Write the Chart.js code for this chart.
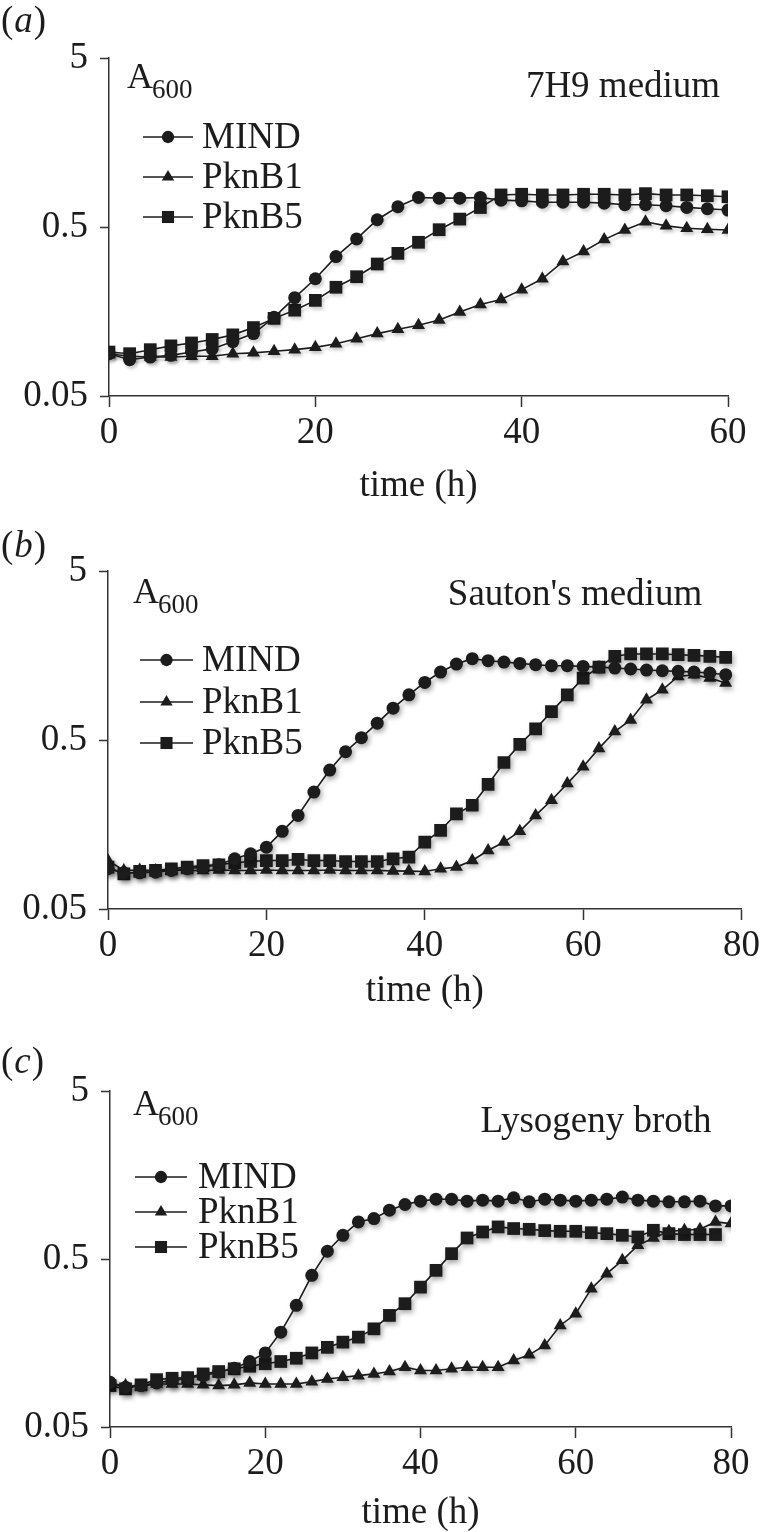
<!DOCTYPE html>
<html>
<head>
<meta charset="utf-8">
<title>Growth curves</title>
<script src="https://cdn.jsdelivr.net/npm/chart.js@4.4.1/dist/chart.umd.min.js"></script>
<style>
  html, body { margin: 0; padding: 0; background: #fff; }
  .panel { position: absolute; left: 0; }
  canvas { display: block; }
</style>
</head>
<body>
<div class="panel" style="top:0"><canvas id="chartA" width="764" height="505"></canvas></div>
<div class="panel" style="top:505px"><canvas id="chartB" width="764" height="515"></canvas></div>
<div class="panel" style="top:1020px"><canvas id="chartC" width="764" height="512"></canvas></div>

<script>
// sampling times (h)
const timesA = [0, 2, 4, 6, 8, 10, 12, 14, 16, 18, 20, 22, 24, 26, 28, 30, 32, 34, 36, 38, 40, 42, 44, 46, 48, 50, 52, 54, 56, 58, 60];
const timesB = [0, 2, 4, 6, 8, 10, 12, 14, 16, 18, 20, 22, 24, 26, 28, 30, 32, 34, 36, 38, 40, 42, 44, 46, 48, 50, 52, 54, 56, 58, 60, 62, 64, 66, 68, 70, 72, 74, 76, 78];
const timesC = [0, 2, 4, 6, 8, 10, 12, 14, 16, 18, 20, 22, 24, 26, 28, 30, 32, 34, 36, 38, 40, 42, 44, 46, 48, 50, 52, 54, 56, 58, 60, 62, 64, 66, 68, 70, 72, 74, 76, 78, 80];

// (a) 7H9 medium, A600
const mindA  = [0.089, 0.082, 0.085, 0.087, 0.091, 0.095, 0.105, 0.117, 0.146, 0.191, 0.247, 0.334, 0.425, 0.552, 0.659, 0.748, 0.741, 0.741, 0.748, 0.721, 0.714, 0.701, 0.701, 0.701, 0.692, 0.677, 0.677, 0.668, 0.653, 0.641, 0.630];
const pknB1A = [0.089, 0.086, 0.085, 0.085, 0.086, 0.086, 0.089, 0.090, 0.092, 0.094, 0.097, 0.102, 0.109, 0.117, 0.124, 0.131, 0.141, 0.157, 0.174, 0.186, 0.213, 0.247, 0.312, 0.358, 0.421, 0.480, 0.537, 0.508, 0.492, 0.485, 0.480];
const pknB5A = [0.091, 0.089, 0.094, 0.099, 0.103, 0.108, 0.115, 0.127, 0.144, 0.161, 0.184, 0.220, 0.254, 0.302, 0.349, 0.406, 0.482, 0.557, 0.652, 0.774, 0.781, 0.774, 0.774, 0.781, 0.781, 0.774, 0.788, 0.774, 0.774, 0.766, 0.755];

// (b) Sauton's medium
const mindB  = [0.0865, 0.0819, 0.0819, 0.0826, 0.0845, 0.0865, 0.0885, 0.0913, 0.0991, 0.106, 0.116, 0.144, 0.179, 0.246, 0.332, 0.426, 0.516, 0.629, 0.771, 0.925, 1.096, 1.262, 1.407, 1.514, 1.473, 1.446, 1.420, 1.395, 1.376, 1.376, 1.363, 1.350, 1.333, 1.315, 1.297, 1.285, 1.274, 1.262, 1.245, 1.217];
const pknB1B = [0.0968, 0.0845, 0.0850, 0.0845, 0.0850, 0.0845, 0.0845, 0.0850, 0.0845, 0.0845, 0.0850, 0.0845, 0.0845, 0.0845, 0.0850, 0.0845, 0.0845, 0.0845, 0.0840, 0.0838, 0.0834, 0.0865, 0.0885, 0.0968, 0.111, 0.1245, 0.144, 0.179, 0.220, 0.276, 0.347, 0.446, 0.561, 0.657, 0.865, 0.991, 1.189, 1.217, 1.162, 1.086];
const pknB5B = [0.0885, 0.0807, 0.0834, 0.0845, 0.0865, 0.0885, 0.0904, 0.0913, 0.0938, 0.0955, 0.0968, 0.0968, 0.0982, 0.0968, 0.0968, 0.0955, 0.0955, 0.0955, 0.0991, 0.1014, 0.1245, 0.146, 0.183, 0.2055, 0.273, 0.368, 0.471, 0.581, 0.736, 0.925, 1.162, 1.351, 1.564, 1.615, 1.615, 1.615, 1.599, 1.584, 1.564, 1.541];

// (c) Lysogeny broth
const mindC  = [0.0922, 0.0862, 0.0882, 0.0915, 0.0944, 0.0975, 0.1011, 0.1059, 0.112, 0.1227, 0.138, 0.1835, 0.265, 0.400, 0.556, 0.692, 0.831, 0.870, 0.976, 1.055, 1.105, 1.135, 1.135, 1.105, 1.120, 1.105, 1.157, 1.095, 1.135, 1.120, 1.105, 1.120, 1.135, 1.168, 1.120, 1.105, 1.095, 1.095, 1.105, 1.035, 1.035];
const pknB1C = [0.0902, 0.0882, 0.0874, 0.0902, 0.0902, 0.0902, 0.0891, 0.0882, 0.0891, 0.0915, 0.0902, 0.0902, 0.0902, 0.0931, 0.0966, 0.0989, 0.1011, 0.1035, 0.1069, 0.1135, 0.1084, 0.1084, 0.111, 0.1135, 0.1135, 0.1135, 0.1245, 0.1344, 0.1528, 0.2011, 0.236, 0.333, 0.409, 0.491, 0.603, 0.667, 0.731, 0.741, 0.751, 0.831, 0.812];
const pknB5C = [0.0882, 0.0843, 0.0891, 0.0957, 0.0975, 0.0984, 0.1035, 0.1069, 0.111, 0.115, 0.119, 0.1227, 0.1283, 0.138, 0.149, 0.160, 0.1714, 0.192, 0.2307, 0.271, 0.340, 0.428, 0.538, 0.667, 0.724, 0.776, 0.759, 0.751, 0.738, 0.731, 0.731, 0.717, 0.708, 0.692, 0.676, 0.741, 0.708, 0.699, 0.699, 0.699];

const seriesNames = ['MIND', 'PknB1', 'PknB5'];
const yTicks = [0.05, 0.5, 5];

const INK = '#1c1c1c';
const SERIF = "'Liberation Serif', 'Times New Roman', serif";
Chart.defaults.font.family = SERIF;
Chart.defaults.color = INK;

const markers = [
    { style: 'circle', radius: 6.5 },
    { style: 'triangle', radius: 7.5 },
    { style: 'rect', radius: 9 }
];

function drawMarker(ctx, style, x, y, r) {
    ctx.beginPath();
    if (style === 'circle') {
        ctx.arc(x, y, r, 0, Math.PI * 2);
    } else if (style === 'triangle') {
        ctx.moveTo(x, y - r);
        ctx.lineTo(x + r * 0.866, y + r * 0.5);
        ctx.lineTo(x - r * 0.866, y + r * 0.5);
        ctx.closePath();
    } else {
        const s = r * Math.SQRT1_2;
        ctx.rect(x - s, y - s, 2 * s, 2 * s);
    }
    ctx.fill();
}

// soft shadow under the markers, as in the printed figure
const shadowPlugin = {
    id: 'markShadow',
    beforeDatasetsDraw(chart, args, o) {
        const ctx = chart.ctx;
        ctx.save();
        ctx.shadowColor = o.color || 'rgba(0,0,0,0.3)';
        ctx.shadowBlur = o.blur || 5;
        ctx.shadowOffsetX = 2;
        ctx.shadowOffsetY = 3;
    },
    afterDatasetsDraw(chart) {
        chart.ctx.restore();
    }
};

// panel tag, A600 label, medium name and the legend inside the plot
const decorPlugin = {
    id: 'decor',
    afterDraw(chart, args, o) {
        const ctx = chart.ctx;
        ctx.save();
        ctx.fillStyle = INK;
        ctx.strokeStyle = INK;

        ctx.textBaseline = 'middle';
        ctx.textAlign = 'left';
        let x = 1;
        ctx.font = '37px ' + SERIF;
        ctx.fillText('(', x, o.tagY);
        x += ctx.measureText('(').width + 1;
        ctx.font = 'italic 37px ' + SERIF;
        ctx.fillText(o.tag, x, o.tagY);
        x += ctx.measureText(o.tag).width + 1;
        ctx.font = '37px ' + SERIF;
        ctx.fillText(')', x, o.tagY);

        ctx.textBaseline = 'alphabetic';
        ctx.font = '36px ' + SERIF;
        ctx.fillText('A', o.aX, o.aY);
        const aw = ctx.measureText('A').width;
        ctx.font = '27px ' + SERIF;
        ctx.fillText('600', o.aX + aw - 1, o.aY + 10);

        ctx.font = '37px ' + SERIF;
        ctx.textAlign = 'center';
        ctx.fillText(o.title, o.titleX, o.titleY);

        ctx.textAlign = 'left';
        ctx.textBaseline = 'middle';
        ctx.font = '37px ' + SERIF;
        chart.data.datasets.forEach((ds, i) => {
            const y = o.legendY[i];
            ctx.lineWidth = 1.6;
            ctx.beginPath();
            ctx.moveTo(o.legendX[0], y);
            ctx.lineTo(o.legendX[1], y);
            ctx.stroke();
            drawMarker(ctx, ds.pointStyle, (o.legendX[0] + o.legendX[1]) / 2, y, ds.pointRadius * 0.95);
            ctx.fillText(ds.label, o.legendText, y + 1);
        });
        ctx.restore();
    }
};

function buildPanel(id, p) {
    const canvas = document.getElementById(id);
    const W = canvas.width, H = canvas.height;
    const datasets = p.series.map((values, i) => ({
        label: seriesNames[i],
        data: values.map((v, k) => ({ x: p.times[k], y: v })),
        borderColor: INK,
        backgroundColor: INK,
        borderWidth: 1.6,
        pointStyle: markers[i].style,
        pointRadius: markers[i].radius,
        pointBackgroundColor: INK,
        pointBorderColor: INK,
        pointBorderWidth: 0,
        tension: 0,
        fill: false
    }));

    return new Chart(canvas, {
        type: 'line',
        data: { datasets: datasets },
        plugins: [shadowPlugin, decorPlugin],
        options: {
            responsive: false,
            animation: false,
            events: [],
            layout: { padding: { top: p.area.top, right: W - p.area.right, left: 0, bottom: 0 } },
            plugins: {
                legend: { display: false },
                tooltip: { enabled: false },
                markShadow: p.shadow,
                decor: p.decor
            },
            scales: {
                x: {
                    type: 'linear',
                    min: 0,
                    max: p.xMax,
                    afterFit: (s) => { s.height = H - p.area.bottom; },
                    border: { display: true, color: '#333', width: 1.5 },
                    grid: { drawOnChartArea: false, tickLength: 11, tickColor: '#333', tickWidth: 1.5 },
                    ticks: { stepSize: 20, autoSkip: false, maxRotation: 0, padding: 4, color: INK, font: { size: 37 } },
                    title: {
                        display: true,
                        text: 'time (h)',
                        color: INK,
                        font: { size: 37, lineHeight: 1 },
                        padding: { top: 0, bottom: p.xTitlePad }
                    }
                },
                y: {
                    type: 'logarithmic',
                    min: 0.05,
                    max: 5,
                    afterFit: (s) => { s.width = p.area.left; },
                    afterBuildTicks: (s) => { s.ticks = yTicks.map(v => ({ value: v })); },
                    border: { display: true, color: '#333', width: 1.5 },
                    grid: { drawOnChartArea: false, tickLength: 9, tickColor: '#333', tickWidth: 1.5 },
                    ticks: {
                        padding: 12,
                        color: INK,
                        font: { size: 37 },
                        callback: (v) => String(v)
                    }
                }
            }
        }
    });
}

buildPanel('chartA', {
    times: timesA,
    series: [mindA, pknB1A, pknB5A],
    xMax: 60,
    area: { left: 109, top: 58, right: 728, bottom: 396 },
    xTitlePad: 0,
    shadow: { color: 'rgba(0,0,0,0.18)', blur: 3 },
    decor: {
        tag: 'a', tagY: 22,
        aX: 127, aY: 88,
        title: '7H9 medium', titleX: 623, titleY: 97,
        legendY: [137, 177, 217], legendX: [143, 193], legendText: 202
    }
});

buildPanel('chartB', {
    times: timesB,
    series: [mindB, pknB1B, pknB5B],
    xMax: 80,
    area: { left: 108, top: 66, right: 745, bottom: 404 },
    xTitlePad: 10,
    shadow: { color: 'rgba(0,0,0,0.3)', blur: 5 },
    decor: {
        tag: 'b', tagY: 42,
        aX: 133, aY: 98,
        title: "Sauton's medium", titleX: 575, titleY: 100,
        legendY: [155, 197, 238], legendX: [140, 193], legendText: 202
    }
});

buildPanel('chartC', {
    times: timesC,
    series: [mindC, pknB1C, pknB5C],
    xMax: 80,
    area: { left: 110, top: 71, right: 731, bottom: 407 },
    xTitlePad: 0,
    shadow: { color: 'rgba(0,0,0,0.3)', blur: 5 },
    decor: {
        tag: 'c', tagY: 43,
        aX: 133, aY: 95,
        title: 'Lysogeny broth', titleX: 596, titleY: 112,
        legendY: [157, 192, 227], legendX: [135, 187], legendText: 198
    }
});
</script>
</body>
</html>
